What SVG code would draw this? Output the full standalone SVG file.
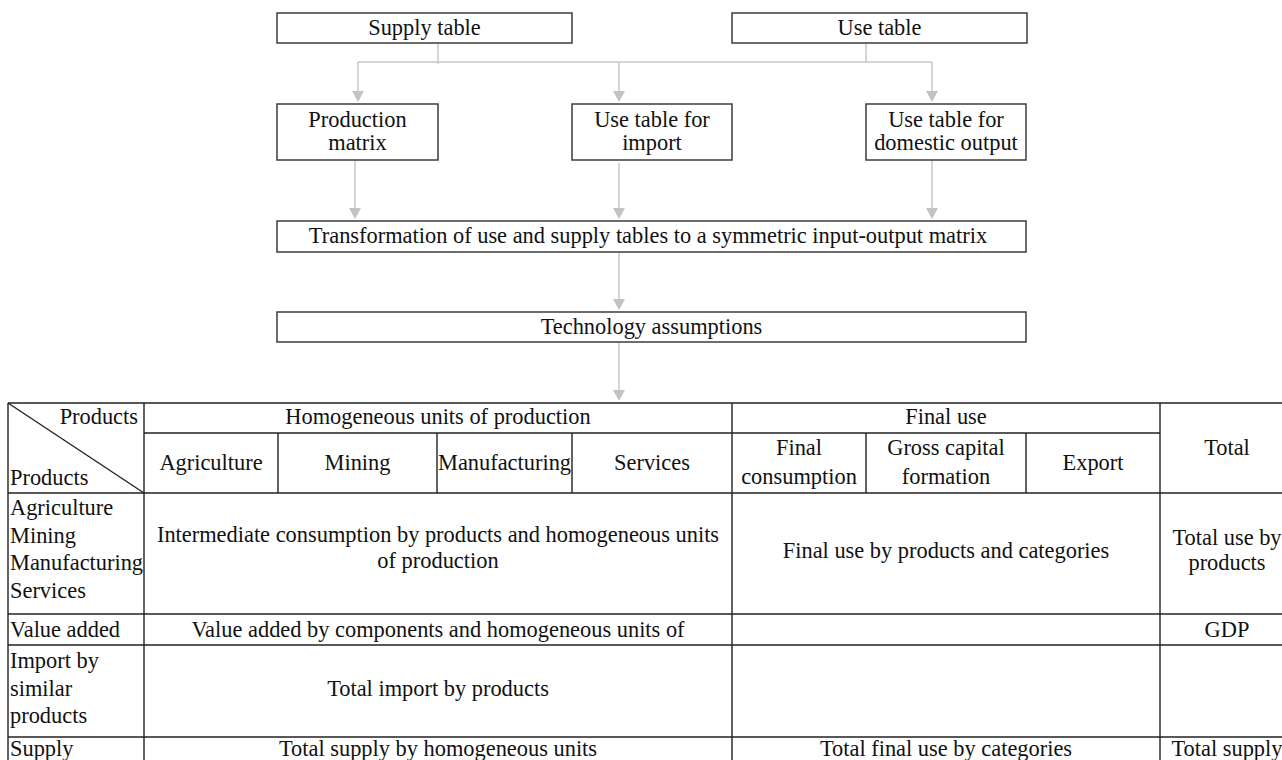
<svg xmlns="http://www.w3.org/2000/svg" width="1282" height="760" viewBox="0 0 1282 760">
<style>
text{font-family:"Liberation Serif","Times New Roman",serif;font-size:22.4px;fill:#111;text-anchor:middle}
.box{fill:#fff;stroke:#3c3c3c;stroke-width:1.5}
.conn{stroke:#c8c8c8;stroke-width:1.5;fill:none}
.head{fill:#c3c3c6}
.tl{stroke:#222;stroke-width:1.4;fill:none}
.l{text-anchor:start}
.r{text-anchor:end}
</style>
<rect width="1282" height="760" fill="#fff"/>
<g id="connectors">
<path class="conn" d="M438 43V64M866 43V62M358 62H932M358 62V91M619 62V91M932 62V91"/>
<path class="conn" d="M355 160V208M619 163V208M932 160V208M619 253V299M619 342V390"/>
<path class="head" d="M352 91H364L358 102ZM613 91H625L619 102ZM926 91H938L932 102Z"/>
<path class="head" d="M349 208H361L355 219ZM613 208H625L619 219ZM926 208H938L932 219Z"/>
<path class="head" d="M613 299H625L619 310ZM613 390H625L619 401Z"/>
</g>
<g id="supply-table"><rect class="box" x="277" y="13" width="295" height="30"/><text x="424.5" y="35">Supply table</text></g>
<g id="use-table"><rect class="box" x="732" y="13" width="295" height="30"/><text x="879.5" y="35">Use table</text></g>
<g id="production-matrix"><rect class="box" x="277" y="104" width="161" height="56"/><text x="357.5" y="127">Production</text><text x="357.5" y="150">matrix</text></g>
<g id="use-import"><rect class="box" x="572" y="104" width="160" height="56"/><text x="652" y="127">Use table for</text><text x="652" y="150">import</text></g>
<g id="use-domestic"><rect class="box" x="866" y="104" width="160" height="56"/><text x="946" y="127">Use table for</text><text x="946" y="150">domestic output</text></g>
<g id="transformation"><rect class="box" x="277" y="221" width="749" height="31"/><text x="648" y="243">Transformation of use and supply tables to a symmetric input-output matrix</text></g>
<g id="technology"><rect class="box" x="277" y="312" width="749" height="30"/><text x="651.5" y="334">Technology assumptions</text></g>
<g id="table">
<path class="tl" d="M8 403H1294M144 433H1160M8 493H1294M8 614H1294M8 645H1294M8 737H1294"/>
<path class="tl" d="M8 403V770M144 403V770M732 403V770M1160 403V770M1294 403V770"/>
<path class="tl" d="M278 433V493M437 433V493M572 433V493M866 433V493M1026 433V493"/>
<path class="tl" d="M8 403L144 493"/>
<text class="r" x="138" y="424">Products</text>
<text class="l" x="10" y="485">Products</text>
<text x="438" y="424">Homogeneous units of production</text>
<text x="946" y="424">Final use</text>
<text x="1227" y="455">Total</text>
<text x="211" y="470">Agriculture</text>
<text x="357.5" y="470">Mining</text>
<text x="504.5" y="470">Manufacturing</text>
<text x="652" y="470">Services</text>
<text x="799" y="455">Final</text>
<text x="799" y="484">consumption</text>
<text x="946" y="455">Gross capital</text>
<text x="946" y="484">formation</text>
<text x="1093" y="470">Export</text>
<text class="l" x="10" y="515">Agriculture</text>
<text class="l" x="10" y="543">Mining</text>
<text class="l" x="10" y="570">Manufacturing</text>
<text class="l" x="10" y="598">Services</text>
<text x="438" y="542">Intermediate consumption by products and homogeneous units</text>
<text x="438" y="568">of production</text>
<text x="946" y="558">Final use by products and categories</text>
<text x="1227" y="545">Total use by</text>
<text x="1227" y="570">products</text>
<text class="l" x="10" y="637">Value added</text>
<text x="438" y="637">Value added by components and homogeneous units of</text>
<text x="1227" y="637">GDP</text>
<text class="l" x="10" y="668">Import by</text>
<text class="l" x="10" y="696">similar</text>
<text class="l" x="10" y="723">products</text>
<text x="438" y="696">Total import by products</text>
<text class="l" x="10" y="756">Supply</text>
<text x="438" y="756">Total supply by homogeneous units</text>
<text x="946" y="756">Total final use by categories</text>
<text x="1227" y="756">Total supply</text>
</g>
</svg>
